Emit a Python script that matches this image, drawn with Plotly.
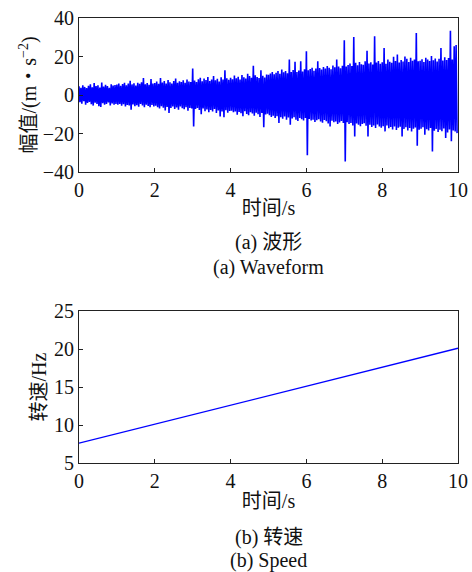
import plotly.graph_objects as go

# ---- Data ----
# Waveform: upper peaks at t = 0.05*k, lower peaks at t = 0.05*k + 0.025 (m/s^2)
peak_hi = [
    4.5, 3.8, 5.0, 4.2, 3.6, 4.8, 5.5, 4.0, 6.2, 4.6, 5.1, 3.9, 6.5, 4.4, 5.3, 4.7, 3.8, 5.6, 4.9, 5.2,
    5.4, 6.0, 4.8, 5.7, 6.3, 5.1, 5.9, 7.4, 5.5, 6.1, 4.9, 6.4, 5.8, 6.6, 8.8, 5.6, 6.2, 5.3, 8.3, 6.0,
    6.2, 7.0, 5.8, 8.8, 6.5, 7.3, 6.0, 7.8, 6.6, 5.9, 7.2, 8.5, 6.4, 7.1, 6.8, 7.6, 6.3, 8.0, 7.0, 6.7,
    13.7, 7.5, 6.8, 8.2, 9.0, 7.1, 8.6, 7.8, 9.4, 7.3, 8.0, 9.8, 7.6, 8.4, 7.0, 9.2, 8.1, 12.8, 8.7, 7.9,
    9.0, 8.2, 10.1, 8.7, 9.5, 8.0, 10.4, 9.2, 8.6, 11.0, 9.8, 8.9, 15.2, 10.2, 9.4, 8.8, 12.8, 10.0, 9.1, 10.6,
    10.5, 11.2, 12.0, 10.8, 11.6, 12.5, 11.0, 13.2, 11.8, 12.4, 11.3, 18.4, 12.0, 13.0, 17.3, 11.9, 12.7, 17.5, 12.2, 13.4,
    22.7, 12.8, 13.5, 14.2, 12.6, 13.8, 17.5, 14.0, 13.2, 14.6, 13.7, 15.0, 14.1, 13.4, 15.3, 14.4, 18.4, 14.8, 13.9, 15.2,
    28.4, 14.8, 15.6, 16.3, 15.0, 30.1, 16.8, 15.4, 17.2, 16.0, 15.7, 17.5, 23.0, 16.4, 17.0, 15.8, 30.5, 16.9, 17.6, 16.2,
    17.0, 24.4, 16.2, 18.5, 17.3, 16.8, 19.9, 17.6, 21.0, 16.9, 18.2, 17.4, 20.0, 18.8, 17.1, 19.3, 17.8, 18.4, 32.2, 17.5,
    17.8, 18.6, 17.2, 19.4, 18.4, 17.6, 20.2, 18.0, 19.0, 17.4, 18.8, 24.4, 17.9, 19.6, 18.2, 19.2, 33.4, 18.5, 25.3, 26.0,
]
peak_lo = [
    -3.8, -4.5, -3.2, -5.0, -4.1, -3.6, -4.8, -5.5, -4.0, -4.6, -5.8, -6.2, -4.3, -5.1, -4.7, -3.9, -5.4, -4.4, -5.0, -4.6,
    -5.0, -4.6, -5.6, -4.8, -6.0, -5.2, -5.5, -7.6, -4.9, -5.8, -5.3, -6.1, -4.7, -5.5, -6.3, -5.0, -5.7, -6.4, -5.2, -6.0,
    -5.6, -6.3, -7.0, -5.8, -6.6, -8.0, -6.2, -9.4, -6.8, -5.9, -7.2, -6.5, -7.6, -6.0, -6.9, -7.4, -6.3, -8.2, -6.7, -7.0,
    -16.3, -7.2, -6.8, -7.8, -10.0, -7.0, -8.4, -7.5, -9.0, -7.8, -8.6, -7.2, -9.4, -8.0, -11.1, -8.5, -11.6, -7.9, -9.2, -8.3,
    -8.2, -9.0, -8.6, -10.2, -8.8, -9.5, -11.0, -8.4, -9.8, -10.5, -8.9, -9.6, -10.8, -9.2, -10.0, -11.4, -9.4, -16.8, -10.1, -9.7,
    -10.5, -11.4, -10.8, -12.0, -11.0, -14.5, -11.6, -12.3, -11.1, -12.8, -11.7, -15.4, -12.2, -11.5, -12.9, -13.5, -11.9, -12.6, -13.2, -12.0,
    -31.3, -12.4, -13.2, -12.8, -14.0, -13.1, -12.6, -13.8, -14.4, -13.0, -13.6, -14.8, -16.3, -13.4, -14.1, -13.7, -15.0, -14.3, -13.5, -14.6,
    -34.5, -14.2, -15.0, -14.6, -15.8, -21.5, -14.8, -15.5, -16.2, -15.1, -14.7, -16.0, -21.5, -15.4, -16.6, -15.9, -17.2, -15.3, -16.4, -17.0,
    -16.2, -18.9, -15.8, -17.3, -16.6, -17.9, -16.4, -18.2, -17.0, -16.5, -21.5, -17.6, -16.8, -18.4, -17.2, -19.0, -17.5, -16.9, -26.3, -18.0,
    -17.5, -16.8, -20.6, -17.8, -18.4, -17.2, -29.3, -18.6, -17.6, -19.2, -18.0, -18.8, -17.4, -22.3, -19.5, -17.9, -24.0, -18.5, -19.0, -19.8,
]
peak_step = 0.05  # s between successive upper peaks

# Speed curve (Hz)
speed_t = [0, 2, 4, 6, 8, 10]
speed_hz = [7.6, 10.1, 12.6, 15.1, 17.6, 20.1]

x_ticks = [0, 2, 4, 6, 8, 10]
wave_ticks = [-40, -20, 0, 20, 40]
speed_ticks = [5, 10, 15, 20, 25]

# ---- Build interleaved waveform ----
wave_t, wave_y = [], []
for k, (hi, lo) in enumerate(zip(peak_hi, peak_lo)):
    wave_t += [k * peak_step, k * peak_step + peak_step / 2]
    wave_y += [hi, lo]

FONT = "Liberation Serif, Times New Roman, Noto Sans CJK SC, serif"
AX = "#222222"

fig = go.Figure()
fig.add_trace(go.Scatter(x=wave_t, y=wave_y, mode="lines",
                         line=dict(color="#0000ff", width=1.6, simplify=False),
                         xaxis="x", yaxis="y", showlegend=False))
fig.add_trace(go.Scatter(x=speed_t, y=speed_hz, mode="lines",
                         line=dict(color="#0000ff", width=1.3), xaxis="x2", yaxis="y2",
                         showlegend=False))

W, H = 472, 572
xl, xr = 79 / W, 458 / W

common = dict(showgrid=False, zeroline=False, showline=True, linecolor=AX, linewidth=1,
              mirror=True, ticks="inside", ticklen=4, tickcolor=AX, tickwidth=1,
              tickfont=dict(family=FONT, size=20, color="#111"))

fig.update_layout(
    width=W, height=H,
    margin=dict(l=0, r=0, t=0, b=0, autoexpand=False),
    paper_bgcolor="white", plot_bgcolor="white",
    font=dict(family=FONT, size=20, color="#111"),
    xaxis=dict(domain=[xl, xr], range=[0, 10], tickvals=x_ticks, anchor="y",
               title=dict(text="时间/s", standoff=0, font=dict(size=20)), **common),
    yaxis=dict(domain=[(H - 172) / H, (H - 18) / H], range=[-40, 40], tickvals=wave_ticks,
               anchor="x",
               title=dict(text="幅值/(m・s<sup>−2</sup>)", standoff=0, font=dict(size=20)), **common),
    xaxis2=dict(domain=[xl, xr], range=[0, 10], tickvals=x_ticks, anchor="y2",
                title=dict(text="时间/s", standoff=2, font=dict(size=20)), **common),
    yaxis2=dict(domain=[(H - 463) / H, (H - 311) / H], range=[5, 25], tickvals=speed_ticks,
                anchor="x2",
                title=dict(text="转速/Hz", standoff=2, font=dict(size=20)), **common),
)

captions = [("(a) 波形", 242), ("(a) Waveform", 267), ("(b) 转速", 537), ("(b) Speed", 560)]
for text, ypx in captions:
    fig.add_annotation(text=text, x=(xl + xr) / 2, y=1 - ypx / H, xref="paper", yref="paper",
                       xanchor="center", yanchor="middle", showarrow=False,
                       font=dict(family=FONT, size=20, color="#111"))

fig.write_html("out.html", config={"displayModeBar": False},
               post_script="document.body.style.margin='0';document.body.style.overflow='hidden';")
